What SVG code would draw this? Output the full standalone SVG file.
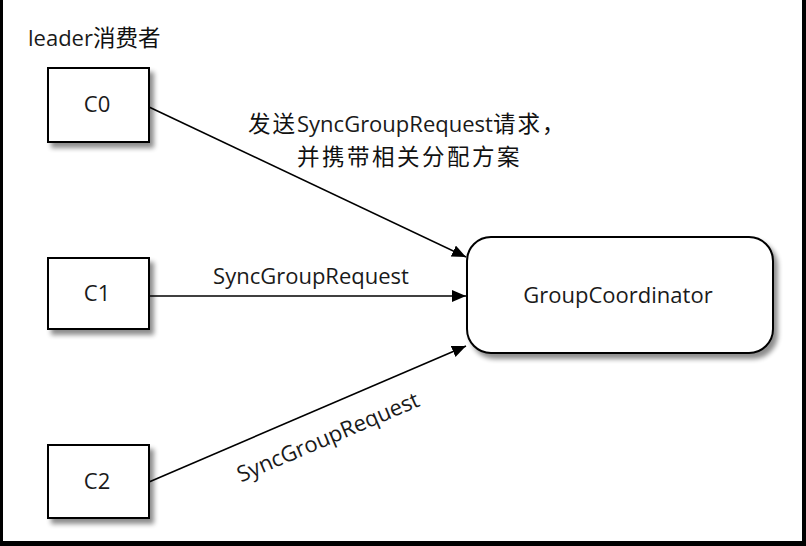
<svg xmlns="http://www.w3.org/2000/svg" width="806" height="546" viewBox="0 0 806 546">
<style>
.lat{font-family:"Open Sans","Noto Sans",sans-serif;font-size:22px;fill:#1a1a1a}
.cjk{font-family:"Noto Sans CJK SC","Noto Sans",sans-serif;font-size:22.5px;fill:#111}
.box{fill:#fff;stroke:#000;stroke-width:2}
.conn{stroke:#000;stroke-width:1.6;fill:none}
</style>
<defs>
<filter id="sh" x="-20%" y="-20%" width="150%" height="150%">
<feGaussianBlur in="SourceAlpha" stdDeviation="2.5"/>
<feOffset dx="4" dy="5" result="b"/>
<feComponentTransfer><feFuncA type="linear" slope="0.45"/></feComponentTransfer>
<feMerge><feMergeNode/><feMergeNode in="SourceGraphic"/></feMerge>
</filter>
<marker id="ah" markerUnits="userSpaceOnUse" markerWidth="16" markerHeight="14" refX="14" refY="6" orient="auto">
<path d="M0,0 L14,6 L0,12 Z" fill="#000"/>
</marker>
</defs>
<rect width="806" height="546" fill="#fff"/>
<g id="frame" fill="#000">
<rect x="0" y="0" width="3" height="546"/>
<rect x="802" y="0" width="4" height="546"/>
<rect x="0" y="541" width="806" height="5"/>
</g>
<text class="lat" x="28" y="46">leader<tspan class="cjk" font-size="25">消费者</tspan></text>
<g id="connectors">
<line class="conn" x1="149" y1="107" x2="466" y2="257" marker-end="url(#ah)"/>
<line class="conn" x1="149" y1="296" x2="466" y2="296" marker-end="url(#ah)"/>
<line class="conn" x1="149" y1="482" x2="466" y2="346" marker-end="url(#ah)"/>
<text class="lat" x="248" y="132"><tspan class="cjk" letter-spacing="2">发送</tspan>SyncGroupRequest<tspan class="cjk" letter-spacing="2">请求，</tspan></text>
<text class="cjk" x="297" y="165" letter-spacing="2.5">并携带相关分配方案</text>
<text class="lat" x="311" y="284" text-anchor="middle">SyncGroupRequest</text>
<text class="lat" x="331" y="444" text-anchor="middle" transform="rotate(-23.1 331 444)">SyncGroupRequest</text>
</g>
<g id="C0">
<rect class="box" x="48" y="68" width="101" height="74" filter="url(#sh)"/>
<text class="lat" x="97" y="112" text-anchor="middle">C0</text>
</g>
<g id="C1">
<rect class="box" x="48" y="258" width="101" height="71" filter="url(#sh)"/>
<text class="lat" x="97" y="301" text-anchor="middle">C1</text>
</g>
<g id="C2">
<rect class="box" x="48" y="445" width="101" height="73" filter="url(#sh)"/>
<text class="lat" x="97" y="489" text-anchor="middle">C2</text>
</g>
<g id="GroupCoordinator">
<rect class="box" x="467" y="237" width="306" height="116" rx="24" ry="24" filter="url(#sh)"/>
<text class="lat" x="618" y="303" text-anchor="middle">GroupCoordinator</text>
</g>
</svg>
